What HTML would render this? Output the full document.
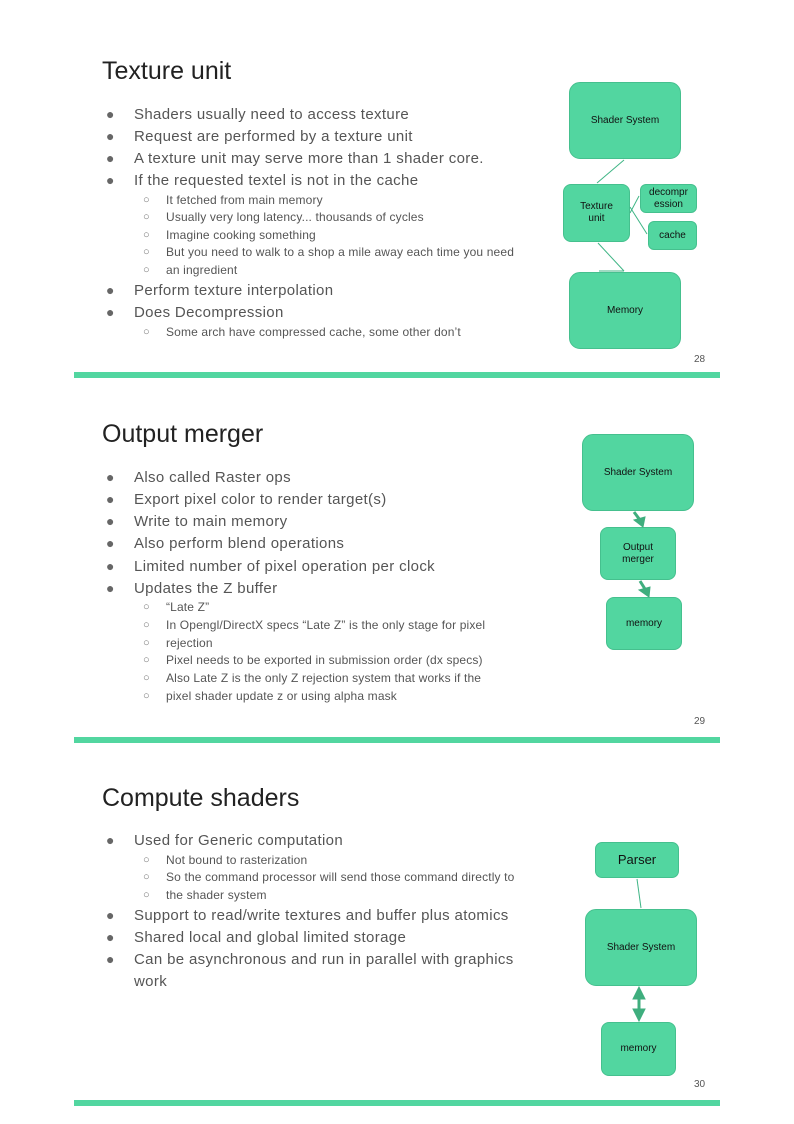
<!DOCTYPE html>
<html><head><meta charset="utf-8"><style>
body{margin:0;width:794px;height:1124px;background:#fff;position:relative;overflow:hidden;font-family:"Liberation Sans",sans-serif}
.t{position:absolute;left:102px;font-size:25px;color:#222;line-height:30px;white-space:nowrap}
.b{position:absolute;left:134px;font-size:15px;letter-spacing:0.35px;color:#555;line-height:18px;white-space:nowrap}
.b:before{content:"●";position:absolute;left:-28px;top:-1px;font-size:14px;color:#666;letter-spacing:0}
.w{position:absolute;left:134px;font-size:15px;letter-spacing:0.35px;color:#555;line-height:18px;white-space:nowrap}
.s{position:absolute;left:166px;font-size:12px;letter-spacing:0.15px;color:#555;line-height:14px;white-space:nowrap}
.s:before{content:"○";position:absolute;left:-23px;font-size:11px;color:#777;letter-spacing:0}
.bar{position:absolute;left:74px;width:646px;height:6px;background:#52d6a0}
.n{position:absolute;font-size:10px;color:#555}
.box{position:absolute;background:#52d6a0;border:1px solid #45c08e;border-radius:11px;display:flex;align-items:center;justify-content:center;text-align:center;font-size:10px;color:#111;line-height:12px;box-sizing:border-box}
svg{position:absolute;left:0;top:0}
</style></head><body>
<div class="t" style="top:56px">Texture unit</div>
<div class="b" style="top:106px">Shaders usually need to access texture</div>
<div class="b" style="top:128px">Request are performed by a texture unit</div>
<div class="b" style="top:150px">A texture unit may serve more than 1 shader core.</div>
<div class="b" style="top:172px">If the requested textel is not in the cache</div>
<div class="s" style="top:193px">It fetched from main memory</div>
<div class="s" style="top:210px">Usually very long latency... thousands of cycles</div>
<div class="s" style="top:228px">Imagine cooking something</div>
<div class="s" style="top:245px">But you need to walk to a shop a mile away each time you need</div>
<div class="s" style="top:263px;">an ingredient</div>
<div class="b" style="top:282px">Perform texture interpolation</div>
<div class="b" style="top:304px">Does Decompression</div>
<div class="s" style="top:325px">Some arch have compressed cache, some other don’t</div>
<div class="n" style="left:694px;top:354px">28</div>
<div class="bar" style="top:372px"></div>

<div class="box" style="left:569px;top:82px;width:112px;height:77px">Shader System</div>
<div class="box" style="left:563px;top:184px;width:67px;height:58px;border-radius:8px">Texture<br>unit</div>
<div class="box" style="left:640px;top:184px;width:57px;height:29px;border-radius:6px">decompr<br>ession</div>
<div class="box" style="left:648px;top:221px;width:49px;height:29px;border-radius:6px">cache</div>
<div class="box" style="left:569px;top:272px;width:112px;height:77px">Memory</div>

<div class="t" style="top:419px">Output merger</div>
<div class="b" style="top:469px">Also called Raster ops</div>
<div class="b" style="top:491px">Export pixel color to render target(s)</div>
<div class="b" style="top:513px">Write to main memory</div>
<div class="b" style="top:535px">Also perform blend operations</div>
<div class="b" style="top:558px">Limited number of pixel operation per clock</div>
<div class="b" style="top:580px">Updates the Z buffer</div>
<div class="s" style="top:600px">“Late Z”</div>
<div class="s" style="top:618px">In Opengl/DirectX specs “Late Z” is the only stage for pixel</div>
<div class="s" style="top:636px;">rejection</div>
<div class="s" style="top:653px">Pixel needs to be exported in submission order (dx specs)</div>
<div class="s" style="top:671px">Also Late Z is the only Z rejection system that works if the</div>
<div class="s" style="top:689px;">pixel shader update z or using alpha mask</div>
<div class="n" style="left:694px;top:716px">29</div>
<div class="bar" style="top:737px"></div>

<div class="box" style="left:582px;top:434px;width:112px;height:77px">Shader System</div>
<div class="box" style="left:600px;top:527px;width:76px;height:53px;border-radius:8px">Output<br>merger</div>
<div class="box" style="left:606px;top:597px;width:76px;height:53px;border-radius:8px">memory</div>

<div class="t" style="top:783px">Compute shaders</div>
<div class="b" style="top:832px">Used for Generic computation</div>
<div class="s" style="top:853px">Not bound to rasterization</div>
<div class="s" style="top:870px">So the command processor will send those command directly to</div>
<div class="s" style="top:888px;">the shader system</div>
<div class="b" style="top:907px">Support to read/write textures and buffer plus atomics</div>
<div class="b" style="top:929px">Shared local and global limited storage</div>
<div class="b" style="top:951px">Can be asynchronous and run in parallel with graphics</div>
<div class="w" style="top:973px">work</div>
<div class="n" style="left:694px;top:1079px">30</div>
<div class="bar" style="top:1100px"></div>

<div class="box" style="left:595px;top:842px;width:84px;height:36px;border-radius:7px;font-size:13px">Parser</div>
<div class="box" style="left:585px;top:909px;width:112px;height:77px">Shader System</div>
<div class="box" style="left:601px;top:1022px;width:75px;height:54px;border-radius:8px">memory</div>

<svg width="794" height="1124">
<g stroke="#3fb585" fill="#3fb585" stroke-width="1">
<line x1="624" y1="160" x2="597" y2="183"/>
<line x1="630" y1="213" x2="639" y2="196"/>
<line x1="630" y1="207" x2="647" y2="234"/>
<line x1="598" y1="243" x2="624" y2="271"/>
<line x1="599" y1="271" x2="624" y2="271"/>
<line x1="637" y1="879" x2="641" y2="908"/>
</g>
<g stroke="#3fae7e" fill="#3fae7e">
<line x1="634" y1="512" x2="640" y2="520" stroke-width="3"/>
<polygon points="634,520 645,517 643,527"/>
<line x1="640" y1="581" x2="645" y2="589" stroke-width="3"/>
<polygon points="639,590 650,587 649,597"/>
<line x1="639" y1="995" x2="639" y2="1014" stroke-width="3"/>
<polygon points="639,987 633,999 645,999"/>
<polygon points="639,1021 633,1009 645,1009"/>
</g>
</svg>
</body></html>
